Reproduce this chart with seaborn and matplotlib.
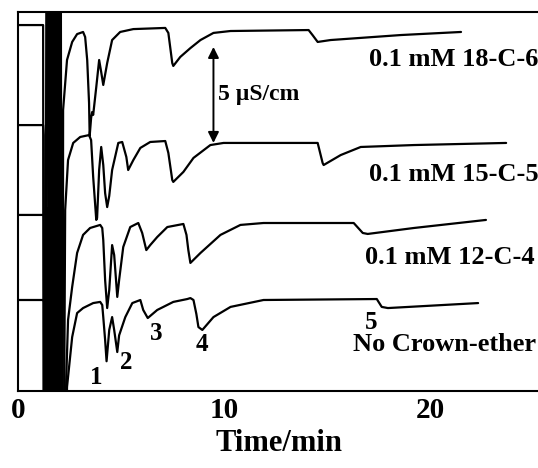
import pandas as pd
import matplotlib
matplotlib.use("Agg")
import matplotlib.pyplot as plt
import seaborn as sns

# --- dados lidos do cromatograma (tempo em min, condutividade em uS/cm com deslocamento) ---
# valores -30 / 40 = picos fora de escala (pico da agua / injecao)
t_18c6 = [0, 1.22, 1.27, 1.42, 1.54, 1.66, 1.80, 1.94, 2.06, 2.14,
          2.19, 2.38, 2.63, 2.87, 3.16, 3.26, 3.36, 3.45, 3.48, 3.55,
          3.60, 3.65, 3.80, 3.94, 4.04, 4.14, 4.33, 4.57, 4.96, 5.60,
          7.15, 7.30, 7.49, 7.54, 7.88, 8.37, 8.86, 9.49, 10.32, 14.11,
          14.30, 14.55, 15.18, 18.59, 21.51]
v_18c6 = [19.06, 19.06, -30, 40, -30, 40, -30, 40, -30, -30,
          14.64, 17.24, 18.18, 18.59, 18.70, 18.44, 17.24, 15.0, 13.28, 14.22,
          14.53, 14.38, 15.83, 17.24, 16.61, 15.94, 17.08, 18.28, 18.70, 18.85,
          18.91, 18.65, 17.08, 16.93, 17.40, 17.86, 18.28, 18.65, 18.75, 18.80,
          18.54, 18.18, 18.28, 18.54, 18.70]

t_15c5 = [0, 1.22, 1.25, 1.30, 1.45, 1.58, 1.72, 1.86, 1.99, 2.10,
          2.29, 2.43, 2.68, 3.02, 3.45, 3.55, 3.65, 3.80, 3.84, 3.94,
          4.04, 4.14, 4.23, 4.33, 4.43, 4.57, 4.87, 5.06, 5.26, 5.35,
          5.60, 5.94, 6.42, 7.15, 7.30, 7.49, 7.54, 8.03, 8.52, 9.34,
          9.98, 14.55, 14.79, 14.84, 15.67, 16.64, 19.22, 23.70]
v_15c5 = [13.85, 13.85, 13.33, -30, 40, -30, 40, -30, 40, -30,
          9.43, 12.03, 12.92, 13.23, 13.33, 13.07, 11.15, 8.91, 9.01, 11.51,
          12.71, 11.77, 10.31, 9.58, 10.16, 11.51, 12.92, 12.97, 12.19, 11.51,
          12.03, 12.66, 12.97, 13.02, 12.40, 10.99, 10.89, 11.41, 12.14, 12.81,
          12.92, 12.92, 11.88, 11.77, 12.29, 12.71, 12.81, 12.92]

t_12c4 = [0, 1.22, 1.31, 1.41, 1.46, 1.52, 1.62, 1.76, 1.90, 2.02,
          2.12, 2.30, 2.34, 2.43, 2.63, 2.87, 3.16, 3.50, 3.99, 4.09,
          4.14, 4.23, 4.33, 4.43, 4.57, 4.67, 4.82, 4.91, 5.11, 5.45,
          5.84, 6.03, 6.23, 6.42, 6.76, 7.25, 8.03, 8.18, 8.27, 8.37,
          8.86, 9.83, 10.80, 11.92, 16.30, 16.74, 16.98, 19.22, 22.72]
v_12c4 = [9.17, 9.17, 9.27, 9.53, -30, 40, -30, 40, -30, 40,
          -30, -3, 0.57, 3.70, 5.42, 7.19, 8.13, 8.49, 8.65, 8.49,
          7.86, 5.78, 4.32, 5.26, 7.60, 7.08, 4.90, 5.78, 7.50, 8.54,
          8.75, 8.23, 7.34, 7.60, 8.02, 8.54, 8.70, 8.13, 7.34, 6.67,
          7.19, 8.13, 8.65, 8.75, 8.75, 8.23, 8.18, 8.49, 8.91]

t_none = [0, 1.22, 1.41, 1.46, 1.50, 1.57, 1.70, 1.82, 1.96, 2.06,
          2.14, 2.34, 2.38, 2.63, 2.87, 3.16, 3.65, 3.99, 4.09, 4.14,
          4.23, 4.30, 4.43, 4.57, 4.67, 4.82, 4.91, 5.21, 5.55, 5.94,
          6.08, 6.30, 6.76, 7.54, 8.22, 8.37, 8.52, 8.66, 8.76, 8.95,
          9.49, 10.32, 11.92, 17.42, 17.66, 17.96, 22.34]
v_none = [4.74, 4.74, 4.38, 4.64, -30, 40, -30, 40, -30, 40,
          -30, -3, 0.21, 2.81, 4.06, 4.32, 4.58, 4.64, 4.48, 3.85,
          2.66, 1.55, 3.18, 3.85, 3.18, 2.03, 2.90, 3.85, 4.58, 4.74,
          4.22, 3.80, 4.22, 4.64, 4.79, 4.84, 4.74, 4.01, 3.33, 3.18,
          3.85, 4.38, 4.74, 4.79, 4.38, 4.32, 4.58]

trace_labels = ['0.1 mM 18-C-6', '0.1 mM 15-C-5', '0.1 mM 12-C-4', 'No Crown-ether']
label_x = [25.26, 25.26, 25.06, 25.16]
label_y = [17.24, 11.30, 6.93, 2.40]

peak_names = ['1', '2', '3', '4', '5']
peak_x = [3.80, 5.26, 6.72, 8.95, 17.13]
peak_y = [0.68, 1.46, 3.02, 2.40, 3.59]

# --- estilo ---
sns.set_style("white")
plt.rcParams['font.family'] = ['Liberation Serif', 'DejaVu Serif']
plt.rcParams['font.weight'] = 'bold'
plt.rcParams['text.color'] = 'black'
plt.rcParams['axes.labelcolor'] = 'black'
plt.rcParams['xtick.color'] = 'black'

fig = plt.figure(figsize=(5.38, 4.68), dpi=100)
ax = fig.add_axes([18 / 538, 1 - 391 / 468, 1 - 18 / 538 + 0.002, (391 - 12) / 468])

traces = [(t_18c6, v_18c6), (t_15c5, v_15c5), (t_12c4, v_12c4), (t_none, v_none)]
for tt, vv in traces:
    df = pd.DataFrame({'Tempo': tt, 'Sinal': vv})
    sns.lineplot(data=df, x='Tempo', y='Sinal', sort=False, estimator=None,
                 color='black', linewidth=1.6, ax=ax)

for txt, x, y in zip(trace_labels, label_x, label_y):
    ax.text(x, y, txt, ha='right', va='center', fontsize=19, fontweight='bold')

for txt, x, y in zip(peak_names, peak_x, peak_y):
    ax.text(x, y, txt, ha='center', va='center', fontsize=18, fontweight='bold')

# barra de escala 5 uS/cm
ax.annotate('', xy=(9.49, 17.92), xytext=(9.49, 12.92),
            arrowprops=dict(arrowstyle='<|-|>', color='black', lw=1.4,
                            mutation_scale=16, shrinkA=0, shrinkB=0))
ax.text(9.73, 15.42, '5 \u00b5S/cm', ha='left', va='center', fontsize=17, fontweight='bold')

ax.set_xlim(0, 25.3)
ax.set_ylim(0, 19.74)
ax.set_xticks([0, 10, 20])
ax.set_xticks([5, 15, 25], minor=True)
ax.set_yticks([])
ax.tick_params(axis='x', which='major', direction='in', length=7, width=1.3,
               labelsize=21, pad=4, colors='black')
ax.tick_params(axis='x', which='minor', direction='in', length=4, width=1.3, colors='black')
for lbl in ax.get_xticklabels():
    lbl.set_fontweight('bold')
ax.set_xlabel('Time/min', fontsize=22, fontweight='bold', labelpad=4, color='black')
ax.set_ylabel('')
for side in ['left', 'top', 'bottom']:
    ax.spines[side].set_linewidth(1.5)
    ax.spines[side].set_color('black')
ax.spines['right'].set_visible(False)

plt.savefig('out.png', dpi=100)
